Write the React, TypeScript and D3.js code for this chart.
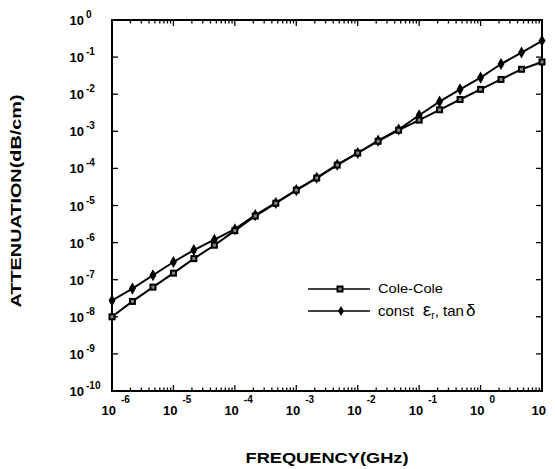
import * as d3 from "d3";

// frequency points (GHz), 3 per decade
const freqs = [
  1e-6, 2.15e-6, 4.64e-6, 1e-5, 2.15e-5, 4.64e-5, 1e-4, 2.15e-4, 4.64e-4, 1e-3, 2.15e-3,
  4.64e-3, 1e-2, 2.15e-2, 4.64e-2, 1e-1, 2.15e-1, 4.64e-1, 1, 2.15, 4.64, 10,
];

const coleCole = [
  1.0e-8, 2.6e-8, 6.3e-8, 1.5e-7, 3.7e-7, 8.5e-7, 2.1e-6, 5.2e-6, 1.15e-5, 2.6e-5, 5.5e-5,
  1.23e-4, 2.6e-4, 5.4e-4, 1.07e-3, 2.0e-3, 3.8e-3, 7.2e-3, 1.35e-2, 2.5e-2, 4.7e-2, 7.4e-2,
];

const constEps = [
  2.75e-8, 5.75e-8, 1.32e-7, 3.0e-7, 6.3e-7, 1.2e-6, 2.3e-6, 5.5e-6, 1.17e-5, 2.6e-5, 5.6e-5,
  1.26e-4, 2.6e-4, 5.6e-4, 1.12e-3, 2.7e-3, 6.3e-3, 1.35e-2, 2.8e-2, 6.5e-2, 1.33e-1, 2.75e-1,
];

const xExps = [-6, -5, -4, -3, -2, -1, 0, 1];
const yExps = [0, -1, -2, -3, -4, -5, -6, -7, -8, -9, -10];

const W = 555;
const H = 469;
const L = 112, R = 542, T = 20, B = 391;
const font = "Arial, 'Liberation Sans', Helvetica, sans-serif";

export default function App() {
  const x = d3.scaleLog().domain([1e-6, 10]).range([L, R]);
  const y = d3.scaleLog().domain([1e-10, 1]).range([B, T]);

  const line = d3
    .line<number>()
    .x((_, i) => x(freqs[i]))
    .y((d) => y(d));

  const isMajor = (v: number) => Math.abs(Math.log10(v) - Math.round(Math.log10(v))) < 1e-6;
  const xt = x.ticks();
  const yt = y.ticks();

  const diamond = d3.symbol().type(d3.symbolDiamond).size(42)();

  return (
    <svg
      width={W}
      height={H}
      style={{ position: "absolute", left: 0, top: 0, background: "#fff" }}
      fontFamily={font}
    >
      {/* frame */}
      <rect x={L} y={T} width={R - L} height={B - T} fill="none" stroke="#000" strokeWidth={2} />

      {/* x ticks bottom + top */}
      {xt.map((v, i) => {
        const len = isMajor(v) ? 6 : 3.5;
        return (
          <g key={"xt" + i} stroke="#000" strokeWidth={1.3}>
            <line x1={x(v)} x2={x(v)} y1={B} y2={B - len} />
            <line x1={x(v)} x2={x(v)} y1={T} y2={T + len} />
          </g>
        );
      })}
      {/* y ticks left + right */}
      {yt.map((v, i) => {
        const len = isMajor(v) ? 6 : 3.5;
        return (
          <g key={"yt" + i} stroke="#000" strokeWidth={1.3}>
            <line x1={L} x2={L + len} y1={y(v)} y2={y(v)} />
            <line x1={R} x2={R - len} y1={y(v)} y2={y(v)} />
          </g>
        );
      })}

      {/* y tick labels */}
      {yExps.map((e) => {
        const yy = y(Math.pow(10, e));
        return (
          <g key={"yl" + e} fontWeight="bold" fill="#000">
            <text x={84} y={yy + 5} textAnchor="end" fontSize={13}>
              10
            </text>
            <text x={86} y={yy - 2} fontSize={10}>
              {e === 0 ? "0" : "-" + Math.abs(e)}
            </text>
          </g>
        );
      })}

      {/* x tick labels */}
      {xExps.map((e) => {
        const xx = x(Math.pow(10, e));
        return (
          <g key={"xl" + e} fontWeight="bold" fill="#000">
            <text x={xx + 4} y={415} textAnchor="end" fontSize={13}>
              10
            </text>
            {e !== 1 && (
              <text x={xx + 9} y={403} fontSize={10}>
                {e === 0 ? "0" : "-" + Math.abs(e)}
              </text>
            )}
          </g>
        );
      })}

      {/* curves */}
      <path d={line(constEps) || ""} fill="none" stroke="#000" strokeWidth={2} />
      <path d={line(coleCole) || ""} fill="none" stroke="#000" strokeWidth={2} />
      {constEps.map((d, i) => (
        <path key={"cd" + i} d={diamond || ""} transform={`translate(${x(freqs[i])},${y(d)})`} fill="#000" />
      ))}
      {coleCole.map((d, i) => (
        <g key={"cc" + i} transform={`translate(${x(freqs[i])},${y(d)})`}>
          <rect x={-3.5} y={-3.5} width={7} height={7} fill="#000" />
          <rect x={-1.5} y={-1.5} width={3} height={3} fill="#888" />
        </g>
      ))}

      {/* legend */}
      <line x1={308} x2={370} y1={289} y2={289} stroke="#000" strokeWidth={1.5} />
      <g transform="translate(340,289)">
        <rect x={-3.5} y={-3.5} width={7} height={7} fill="#000" />
        <rect x={-1.5} y={-1.5} width={3} height={3} fill="#888" />
      </g>
      <text x={378} y={293} fontSize={12.5} textLength={65} lengthAdjust="spacingAndGlyphs">
        Cole-Cole
      </text>
      <line x1={308} x2={370} y1={311} y2={311} stroke="#000" strokeWidth={1.5} />
      <path d={d3.symbol().type(d3.symbolDiamond).size(30)() || ""} transform="translate(341,311)" fill="#000" />
      <text x={378} y={316} fontSize={15}>
        <tspan>const</tspan>
        <tspan dx={9} fontSize={19}>ε</tspan>
        <tspan fontSize={10} dy={3}>r</tspan>
        <tspan dy={-3}>, tan</tspan>
        <tspan dx={2} fontSize={17}>δ</tspan>
      </text>

      {/* axis titles */}
      <text
        x={327}
        y={463}
        textAnchor="middle"
        fontSize={15}
        fontWeight="bold"
        textLength={163}
        lengthAdjust="spacingAndGlyphs"
      >
        FREQUENCY(GHz)
      </text>
      <text
        transform="translate(21,201) rotate(-90)"
        textAnchor="middle"
        fontSize={15}
        fontWeight="bold"
        textLength={213}
        lengthAdjust="spacingAndGlyphs"
      >
        ATTENUATION(dB/cm)
      </text>
    </svg>
  );
}
